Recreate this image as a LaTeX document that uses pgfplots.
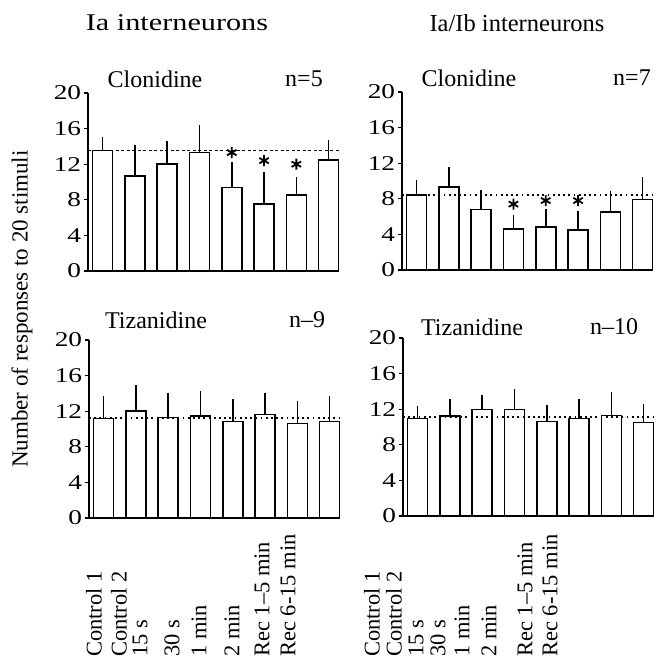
\documentclass[border=0pt]{standalone}
\usepackage{pgfplots}
\pgfplotsset{compat=1.18}
\usepackage{fontspec}
\setmainfont{Liberation Serif}
\newcommand\fz[1]{\fontsize{#1}{#1}\selectfont}

\pgfplotsset{
 panel/.style={
   scale only axis, width=251pt, height=178pt,
   xmin=-0.45, xmax=7.32, ymin=0, ymax=20,
   axis x line=bottom, axis y line=left,
   axis line style={-, line width=1.5pt},
   xtick=\empty,
   ytick={0,4,...,20},
   tick align=outside, major tick length=4pt,
   ytick style={line width=1.2pt, black},
   yticklabel style={font=\fz{21}, xscale=1.3, inner sep=2pt},
   /pgf/number format/assume math mode=true,
   anchor=south west, clip=false,
 },
 bars/.style={ybar, bar width=20pt, draw=black, fill=white, line width=1.6pt,
   error bars/.cd, y dir=plus, y explicit, error mark=none,
   error bar style={line width=1.5pt, black}},
 refdash/.style={black, line width=1.3pt, dash pattern=on 3pt off 2.5pt, forget plot},
 refdot/.style={black, line width=1.8pt, dash pattern=on 1.8pt off 3.4pt, forget plot},
 stars/.style={only marks, mark=asterisk, mark size=5.5pt, line width=1.8pt, black},
}

\begin{document}
\begin{tikzpicture}[x=1pt,y=1pt]
\path[use as bounding box] (0,0) rectangle (665,660);

% Top-left: Ia, Clonidine
\begin{axis}[panel, at={(88pt,389pt)}]
\addplot[bars] coordinates {
 (0,13.55) +- (0,1.55)
 (1,10.7)  +- (0,3.4)
 (2,12.0)  +- (0,2.6)
 (3,13.3)  +- (0,3.1)
 (4,9.4)   +- (0,2.8)
 (5,7.55)  +- (0,3.55)
 (6,8.55)  +- (0,2.0)
 (7,12.45) +- (0,2.25)
};
\addplot[refdash] coordinates {(-0.45,13.55) (7.32,13.55)};
\addplot[stars] coordinates {(4,13.3) (5,12.4) (6,12.0)};
\end{axis}

% Top-right: Ia/Ib, Clonidine
\begin{axis}[panel, at={(402pt,390pt)}]
\addplot[bars] coordinates {
 (0,8.4)  +- (0,1.75)
 (1,9.3)  +- (0,2.3)
 (2,6.8)  +- (0,2.15)
 (3,4.6)  +- (0,1.6)
 (4,4.8)  +- (0,2.0)
 (5,4.5)  +- (0,2.1)
 (6,6.5)  +- (0,2.35)
 (7,7.9)  +- (0,2.5)
};
\addplot[refdot] coordinates {(-0.45,8.4) (7.32,8.4)};
\addplot[stars] coordinates {(3,7.4) (4,7.8) (5,7.8)};
\end{axis}

% Bottom-left: Ia, Tizanidine
\begin{axis}[panel, at={(89pt,142pt)}]
\addplot[bars] coordinates {
 (0,11.2)  +- (0,2.5)
 (1,12.05) +- (0,2.85)
 (2,11.3)  +- (0,2.8)
 (3,11.45) +- (0,2.85)
 (4,10.85) +- (0,2.55)
 (5,11.65) +- (0,2.45)
 (6,10.6)  +- (0,2.6)
 (7,10.85) +- (0,2.85)
};
\addplot[refdot] coordinates {(-0.45,11.2) (7.32,11.2)};
\end{axis}

% Bottom-right: Ia/Ib, Tizanidine
\begin{axis}[panel, at={(403pt,144pt)}]
\addplot[bars] coordinates {
 (0,10.95) +- (0,1.45)
 (1,11.25) +- (0,1.95)
 (2,11.95) +- (0,1.7)
 (3,11.95) +- (0,2.3)
 (4,10.6)  +- (0,1.9)
 (5,10.95) +- (0,2.25)
 (6,11.3)  +- (0,2.65)
 (7,10.5)  +- (0,2.05)
};
\addplot[refdot] coordinates {(-0.45,11.1) (7.32,11.1)};
\end{axis}

% Titles
\node[font=\fz{24}, xscale=1.26] at (177,637) {Ia interneurons};
\node[font=\fz{24.5}] at (517,637) {Ia/Ib interneurons};

% Panel labels
\node[font=\fz{24}] at (155,581) {Clonidine};
\node[font=\fz{24}] at (304,581) {n=5};
\node[font=\fz{24}] at (469,582) {Clonidine};
\node[font=\fz{24}] at (632,582) {n=7};
\node[font=\fz{24}] at (156,340) {Tizanidine};
\node[font=\fz{24}] at (307,340) {n--9};
\node[font=\fz{24}] at (472,333) {Tizanidine};
\node[font=\fz{24}] at (614,333) {n--10};

% Y label
\node[font=\fz{23}, rotate=90] at (22,351) {Number of responses to 20 stimuli};

% Category labels
\foreach \x/\t in {94/Control 1, 119/Control 2, 140/15 s, 172/30 s, 199/1 min, 232/2 min, 262/Rec 1--5 min, 288/Rec 6-15 min,
                   372/Control 1, 394/Control 2, 416/15 s, 438/30 s, 462/1 min, 489/2 min, 525/Rec 1--5 min, 550/Rec 6-15 min}
  \node[font=\fz{22.5}, rotate=90, anchor=west, inner sep=0pt] at (\x,3) {\t};
\end{tikzpicture}
\end{document}
